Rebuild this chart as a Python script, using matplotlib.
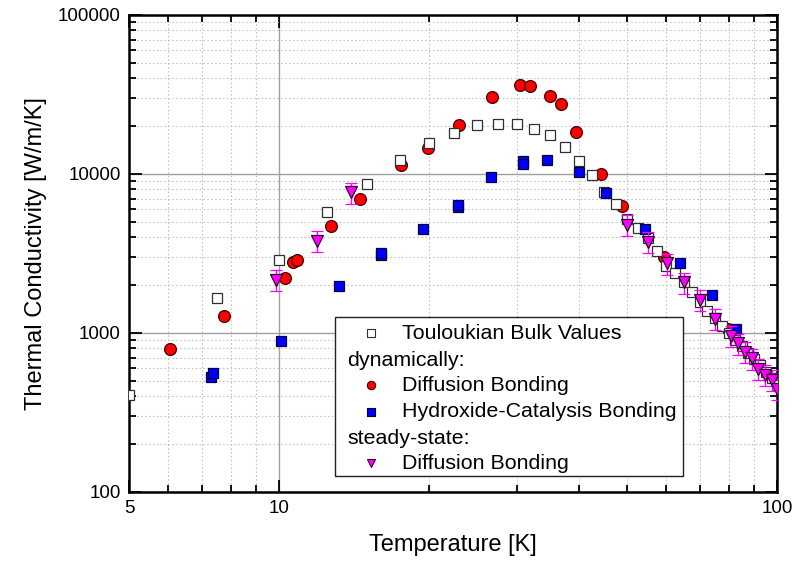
import numpy as np
import matplotlib
matplotlib.use("Agg")
import matplotlib.pyplot as plt
from matplotlib.patches import Rectangle

plt.rcParams['font.family'] = ['Liberation Sans', 'DejaVu Sans']

# Touloukian bulk values
tou_T = [5, 7.5, 10, 12.5, 15, 17.5, 20, 22.5, 25, 27.5, 30, 32.5, 35, 37.5, 40,
         42.5, 45, 47.5, 50, 52.5, 55, 57.5, 60, 62.5, 65, 67.5, 70, 72.5, 75,
         77.5, 80, 82.5, 85, 87.5, 90, 92.5, 95, 97.5, 100]
tou_k = [407, 1660, 2880, 5770, 8650, 12250, 15600, 18000, 20200, 20500, 20700,
         19200, 17700, 14800, 12000, 9800, 7700, 6450, 5200, 4550, 3940, 3300,
         2650, 2370, 2080, 1800, 1570, 1380, 1250, 1110, 1000, 910, 825, 745,
         690, 625, 570, 520, 470]

# dynamically measured, diffusion bonded
diff_T = [6.04, 7.75, 10.28, 10.65, 10.88, 12.72, 14.56, 17.58, 19.95, 22.98,
          26.8, 30.5, 31.9, 35.0, 36.8, 39.4, 44.3, 48.8, 59.3, 79.9]
diff_k = [794, 1280, 2210, 2790, 2880, 4730, 6930, 11450, 14500, 20300, 30600,
          36300, 35900, 31100, 27600, 18400, 10000, 6320, 3020, 1055]

# dynamically measured, hydroxide-catalysis bonded
hcb_T = [7.29, 7.36, 10.09, 13.19, 16.03, 16.03, 19.44, 22.9, 22.9, 26.7, 30.9,
         30.9, 34.5, 40.1, 45.3, 54.3, 64.0, 74.2, 82.7]
hcb_k = [531, 563, 895, 1985, 3080, 3170, 4510, 6200, 6400, 9530, 12130, 11560,
         12250, 10250, 7570, 4510, 2740, 1734, 1055]

# steady-state, diffusion bonded
ss_T = [9.85, 11.9, 13.93, 50.1, 55.2, 60.2, 65.0, 70.0, 75.1, 80.8, 83.6, 86.2,
        88.9, 91.7, 94.6, 97.5, 100]
ss_k = [2155, 3810, 7670, 4780, 3750, 2740, 2080, 1620, 1225, 957, 861, 763,
        693, 594, 545, 506, 445]
ss_err = [323, 572, 1150, 717, 563, 411, 312, 243, 184, 144, 129, 114, 104, 89,
          82, 76, 67]

fig = plt.figure(figsize=(8.04, 5.61), dpi=100)
ax = fig.add_axes([0.1604, 0.123, 0.806, 0.8503])
ax.set_xscale('log')
ax.set_yscale('log')
ax.set_xlim(5, 100)
ax.set_ylim(100, 100000)

ax.grid(True, which='major', color='#a0a0a0', lw=1.0, ls='-', zorder=0)
ax.grid(True, which='minor', color='#c4c4c4', lw=0.8, ls=(0, (1.5, 2)), zorder=0)
ax.set_axisbelow(True)

ax.plot(diff_T, diff_k, 'o', ms=8.5, mfc='red', mec='#400000', mew=0.9, zorder=3)
ax.plot(tou_T, tou_k, 's', ms=7.5, mfc='white', mec='#303030', mew=0.9, zorder=4)
ax.plot(hcb_T, hcb_k, 's', ms=7.5, mfc='blue', mec='#000040', mew=0.9, zorder=5)
ax.errorbar(ss_T, ss_k, yerr=ss_err, fmt='v', ms=8.5, mfc='magenta', mec='#300030',
            mew=0.9, ecolor='magenta', elinewidth=1.0, capsize=4.5, capthick=1.0,
            zorder=6)

ax.set_xticks([5, 10, 100])
ax.set_xticklabels(['5', '10', '100'])
ax.set_yticks([100, 1000, 10000, 100000])
ax.set_yticklabels(['100', '1000', '10000', '100000'])
ax.tick_params(which='both', direction='in', top=True, right=True, labelsize=13.5,
               width=1.3, pad=6)
ax.tick_params(which='major', length=9)
ax.tick_params(which='minor', length=5)
for s in ax.spines.values():
    s.set_linewidth(1.8)

ax.set_xlabel('Temperature [K]', fontsize=17, labelpad=12)
ax.set_ylabel('Thermal Conductivity [W/m/K]', fontsize=17, labelpad=8)

# legend box with section headers
ax.add_patch(Rectangle((0.3174, 0.0342), 0.538, 0.332, transform=ax.transAxes,
                       facecolor='white', edgecolor='#202020', lw=1.0, zorder=8))
rows = [
    (0.3327, 's', 'white', '#303030', 'Touloukian Bulk Values'),
    (0.2767, None, None, None, 'dynamically:'),
    (0.2243, 'o', 'red', '#400000', 'Diffusion Bonding'),
    (0.1683, 's', 'blue', '#000040', 'Hydroxide-Catalysis Bonding'),
    (0.1126, None, None, None, 'steady-state:'),
    (0.0602, 'v', 'magenta', '#300030', 'Diffusion Bonding'),
]
for y, m, fc, ec, label in rows:
    if m is None:
        ax.text(0.3364, y, label, transform=ax.transAxes, fontsize=15.4,
                va='center', ha='left', zorder=9)
    else:
        ax.plot([0.3735], [y], m, ms=6, mfc=fc, mec=ec, mew=0.8,
                transform=ax.transAxes, zorder=9, clip_on=False)
        ax.text(0.4208, y, label, transform=ax.transAxes, fontsize=15.4,
                va='center', ha='left', zorder=9)

fig.savefig('out.png', dpi=100)
